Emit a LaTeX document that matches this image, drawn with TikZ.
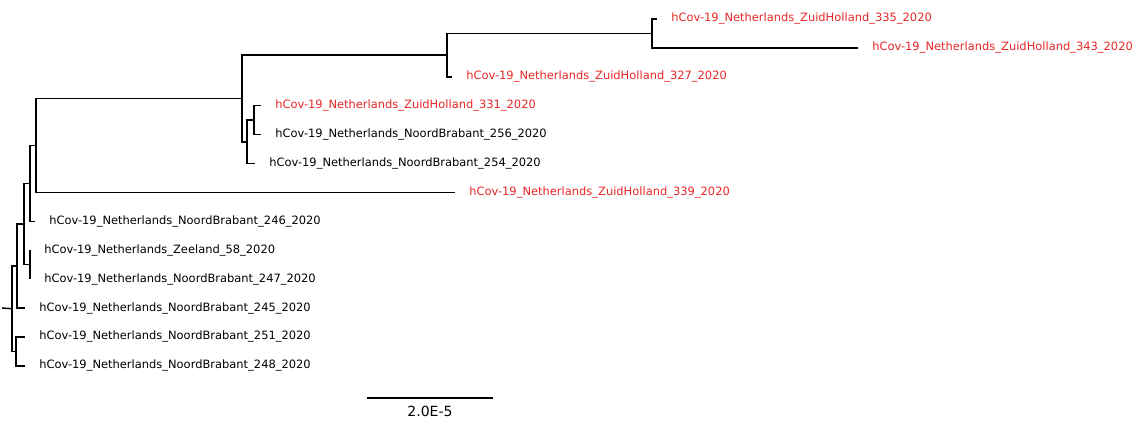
\documentclass[tikz,border=0pt]{standalone}
\usepackage{fontspec}
\setmainfont{DejaVu Sans}
\usepackage{tikz}
\definecolor{zhred}{RGB}{232,38,38}
\tikzset{
  branch/.style={line width=1.1pt, black},
  taxon/.style={anchor=west, inner sep=0pt, xshift=10.5pt, font=\fontsize{8.6}{10}\selectfont},
}

\begin{document}
\begin{tikzpicture}[x=0.75pt, y=-0.75pt]
  \useasboundingbox (0,0) rectangle (1137,423);

  % internal nodes (x = depth, y = midpoint of children)
  \coordinate (root) at (2,308);
  \coordinate (R) at (12,308.7);
  \coordinate (G) at (17,266);
  \coordinate (F) at (16,351.4);
  \coordinate (C) at (24,224);
  \coordinate (B) at (30,183.4);
  \coordinate (D) at (30,264.6);
  \coordinate (A) at (36,145.4);
  \coordinate (H) at (242,98.5);
  \coordinate (I) at (447,55.2);
  \coordinate (K) at (652,33.5);
  \coordinate (J) at (247,141.8);
  \coordinate (L) at (254,120.2);

  % tips
  \coordinate (t335) at (657,19);
  \coordinate (t343) at (858,47.9);
  \coordinate (t327) at (452,76.8);
  \coordinate (t331) at (261,105.7);
  \coordinate (t256) at (261,134.6);
  \coordinate (t254) at (255,163.5);
  \coordinate (t339) at (455,192.4);
  \coordinate (t246) at (35,221.3);
  \coordinate (t58) at (30,250.2);
  \coordinate (t247) at (30,279.1);
  \coordinate (t245) at (25,308);
  \coordinate (t251) at (25,336.9);
  \coordinate (t248) at (25,365.8);

  % branches
  \draw[branch] (root) -- (R);
  \draw[branch] (R) |- (G);
  \draw[branch] (R) |- (F);
  \draw[branch] (G) |- (C);
  \draw[branch] (G) |- (t245);
  \draw[branch] (C) |- (B);
  \draw[branch] (C) |- (D);
  \draw[branch] (B) |- (A);
  \draw[branch] (B) |- (t246);
  \draw[branch] (D) |- (t58);
  \draw[branch] (D) |- (t247);
  \draw[branch] (A) |- (H);
  \draw[branch] (A) |- (t339);
  \draw[branch] (H) |- (I);
  \draw[branch] (H) |- (J);
  \draw[branch] (I) |- (K);
  \draw[branch] (I) |- (t327);
  \draw[branch] (K) |- (t335);
  \draw[branch] (K) |- (t343);
  \draw[branch] (J) |- (L);
  \draw[branch] (J) |- (t254);
  \draw[branch] (L) |- (t331);
  \draw[branch] (L) |- (t256);
  \draw[branch] (F) |- (t251);
  \draw[branch] (F) |- (t248);

  % labels
  \node[taxon, zhred] (l335) at (t335) {hCov-19\_Netherlands\_ZuidHolland\_335\_2020};
  \node[taxon, zhred] (l343) at (t343) {hCov-19\_Netherlands\_ZuidHolland\_343\_2020};
  \node[taxon, zhred] (l327) at (t327) {hCov-19\_Netherlands\_ZuidHolland\_327\_2020};
  \node[taxon, zhred] (l331) at (t331) {hCov-19\_Netherlands\_ZuidHolland\_331\_2020};
  \node[taxon] (l256) at (t256) {hCov-19\_Netherlands\_NoordBrabant\_256\_2020};
  \node[taxon] (l254) at (t254) {hCov-19\_Netherlands\_NoordBrabant\_254\_2020};
  \node[taxon, zhred] (l339) at (t339) {hCov-19\_Netherlands\_ZuidHolland\_339\_2020};
  \node[taxon] (l246) at (t246) {hCov-19\_Netherlands\_NoordBrabant\_246\_2020};
  \node[taxon] (l58) at (t58) {hCov-19\_Netherlands\_Zeeland\_58\_2020};
  \node[taxon] (l247) at (t247) {hCov-19\_Netherlands\_NoordBrabant\_247\_2020};
  \node[taxon] (l245) at (t245) {hCov-19\_Netherlands\_NoordBrabant\_245\_2020};
  \node[taxon] (l251) at (t251) {hCov-19\_Netherlands\_NoordBrabant\_251\_2020};
  \node[taxon] (l248) at (t248) {hCov-19\_Netherlands\_NoordBrabant\_248\_2020};

  % scale bar
  \coordinate (sb0) at (367,398);
  \coordinate (sb1) at (493,398);
  \draw[branch] (sb0) -- (sb1);
  \node[inner sep=0pt, font=\fontsize{10.5}{12}\selectfont] (sblabel) at (430,411) {2.0E-5};
\end{tikzpicture}
\end{document}
